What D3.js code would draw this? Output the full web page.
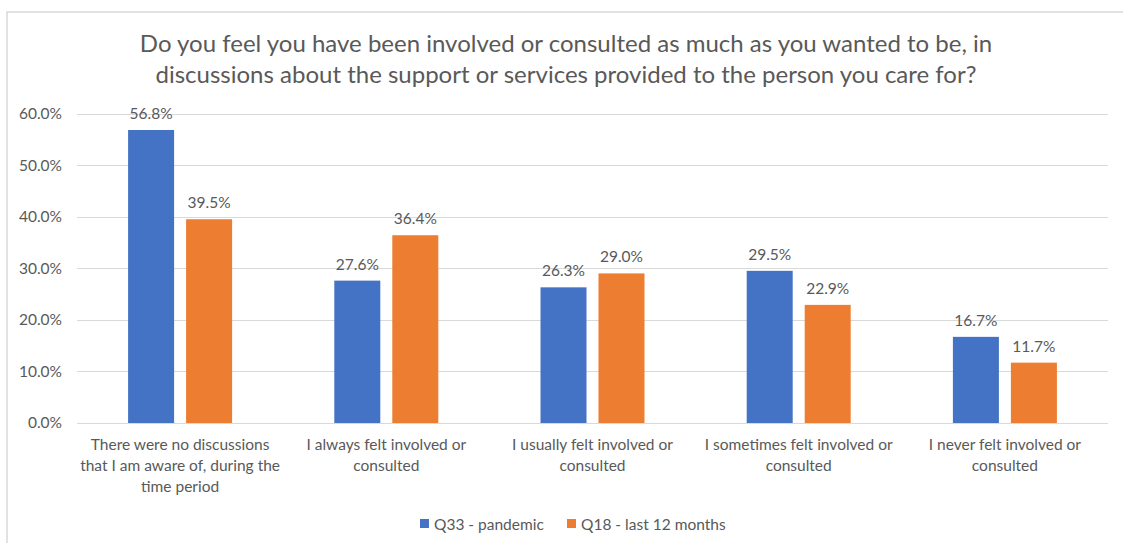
<!DOCTYPE html>
<html>
<head>
<meta charset="utf-8">
<script src="https://cdn.jsdelivr.net/npm/d3@7"></script>
<style>
  body { margin: 0; background: #fff; }
  text { font-family: Lato, "Open Sans", sans-serif; fill: #595959; }
</style>
</head>
<body>
<div id="chart"></div>
<script>
const title = [
  'Do you feel you have been involved or consulted as much as you wanted to be, in',
  'discussions about the support or services provided to the person you care for?'
];
const categories = [
  'There were no discussions\nthat I am aware of, during the\ntime period',
  'I always felt involved or\nconsulted',
  'I usually felt involved or\nconsulted',
  'I sometimes felt involved or\nconsulted',
  'I never felt involved or\nconsulted'
];
const seriesNames = ['Q33 - pandemic', 'Q18 - last 12 months'];
const pandemic = [56.8, 27.6, 26.3, 29.5, 16.7];
const last12 = [39.5, 36.4, 29.0, 22.9, 11.7];
const yTicks = [0, 10, 20, 30, 40, 50, 60];
const colors = ['#4472C4', '#ED7D31'];

const W = 1123, H = 543;
const margin = { left: 77, right: 15, top: 113.5, bottom: 120 };
const fs = '15.5px';

const svg = d3.select('#chart').append('svg').attr('width', W).attr('height', H);

// chart frame
svg.append('rect')
  .attr('x', 7).attr('y', 12)
  .attr('width', W + 10).attr('height', H + 10)
  .attr('fill', 'none').attr('stroke', '#d9d9d9').attr('stroke-width', 1.5);

svg.selectAll('text.title')
  .data(title)
  .enter().append('text')
  .attr('class', 'title')
  .attr('x', 566).attr('y', (d, i) => 52 + i * 31)
  .attr('text-anchor', 'middle')
  .style('font-size', '24px')
  .text(d => d);

const x = d3.scaleBand().domain(d3.range(categories.length)).range([margin.left, 1108]);
const y = d3.scaleLinear().domain([0, 60]).range([423, margin.top]);

// gridlines
svg.selectAll('line.grid')
  .data(yTicks)
  .enter().append('line')
  .attr('class', 'grid')
  .attr('x1', margin.left).attr('x2', 1108)
  .attr('y1', d => Math.round(y(d)) + 0.5).attr('y2', d => Math.round(y(d)) + 0.5)
  .attr('stroke', '#d9d9d9');

const yAxis = svg.append('g')
  .attr('transform', `translate(${margin.left - 15},0)`)
  .call(d3.axisLeft(y).tickValues(yTicks).tickSize(0).tickPadding(0).tickFormat(d => d.toFixed(1) + '%'));
yAxis.select('.domain').remove();
yAxis.selectAll('text').style('font-size', fs).style('font-family', 'Lato, sans-serif').attr('fill', '#595959');

const barW = 46, gap = 12;
const series = [pandemic, last12];

series.forEach((vals, s) => {
  const g = svg.append('g');
  const bx = i => x(i) + x.bandwidth() / 2 + (s === 0 ? -gap / 2 - barW : gap / 2);
  g.selectAll('rect')
    .data(vals)
    .enter().append('rect')
    .attr('x', (d, i) => bx(i))
    .attr('y', d => y(d))
    .attr('width', barW)
    .attr('height', d => y(0) - y(d))
    .attr('fill', colors[s]);
  g.selectAll('text')
    .data(vals)
    .enter().append('text')
    .attr('x', (d, i) => bx(i) + barW / 2)
    .attr('y', d => y(d) - 11)
    .attr('text-anchor', 'middle')
    .style('font-size', fs)
    .text(d => d.toFixed(1) + '%');
});

// category labels
const cat = svg.append('g');
categories.forEach((c, i) => {
  const t = cat.append('text')
    .attr('x', x(i) + x.bandwidth() / 2)
    .attr('y', 450)
    .attr('text-anchor', 'middle')
    .style('font-size', fs);
  c.split('\n').forEach((line, j) => {
    t.append('tspan').attr('x', x(i) + x.bandwidth() / 2).attr('dy', j ? 21 : 0).text(line);
  });
});

// legend
const legendX = [420, 567];
const legend = svg.append('g');
seriesNames.forEach((n, i) => {
  legend.append('rect').attr('x', legendX[i]).attr('y', 519).attr('width', 9).attr('height', 9).attr('fill', colors[i]);
  legend.append('text').attr('x', legendX[i] + 14).attr('y', 530).style('font-size', fs).text(n);
});
</script>
</body>
</html>
